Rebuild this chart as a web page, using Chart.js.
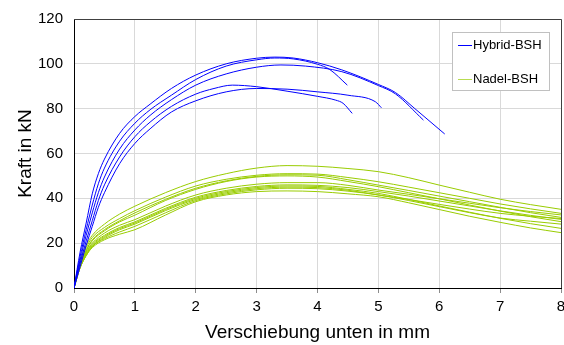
<!DOCTYPE html>
<html>
<head>
<meta charset="utf-8">
<script src="https://cdn.jsdelivr.net/npm/chart.js@4"></script>
<style>
    html, body { margin: 0; padding: 0; background: #fff; }
    #wrap { width: 564px; height: 345px; position: relative; }
</style>
</head>
<body>
<div id="wrap"><canvas id="forceChart" width="564" height="345"></canvas></div>
<script>
// Hybrid-BSH test curves, [displacement mm, force kN]
const hybridA = [[0,0],[0.1,16],[0.2,29],[0.3,42],[0.4,51],[0.5,57.5],[0.75,69],[1,76.5],[1.25,82],[1.6,89],[2,95],[2.5,100],[3,102.5],[3.3,103],[3.6,102.6],[4,100.5],[4.4,97.3],[5,90.8],[5.28,87.2],[5.6,80],[6.09,68.7]];
const hybridB = [[0,0],[0.1,14],[0.2,26],[0.3,37],[0.4,46.5],[0.5,53.5],[0.75,65.5],[1,73.5],[1.25,79.5],[1.6,86],[2,93],[2.5,99],[3,101.8],[3.3,102.6],[3.6,102.2],[4,99.8],[4.2,97.5],[4.49,90.5]];
const hybridC = [[0,0],[0.1,12.5],[0.2,23.5],[0.3,33.5],[0.4,42.5],[0.5,49.5],[0.75,62],[1,70.5],[1.25,77],[1.6,84],[2,90.5],[2.5,95.5],[3,98.5],[3.4,99.5],[3.8,99],[4.4,96.5],[5,90.3],[5.28,86.6],[5.74,74.9]];
const hybridD = [[0,0],[0.1,11],[0.2,21],[0.3,30],[0.4,39],[0.5,46],[0.75,58.5],[1,67.5],[1.25,74],[1.6,81],[2,86.5],[2.3,89],[2.6,90.5],[3,89.8],[3.5,87.8],[4,85.5],[4.3,83.8],[4.42,82.4],[4.57,77.9]];
const hybridE = [[0,0],[0.1,9.5],[0.2,19],[0.3,27.5],[0.4,36],[0.5,42.5],[0.75,55.5],[1,64.5],[1.25,71],[1.6,78.5],[2,83.5],[2.5,87.5],[3,89],[3.5,88.7],[4,87.5],[4.5,86],[4.95,83.1],[5.05,80.4]];

// Nadel-BSH test curves, shared displacement steps
const nadelX = [0, 0.1, 0.2, 0.3, 0.5, 0.75, 1, 1.5, 2, 2.5, 3, 3.5, 4, 4.5, 5, 5.5, 6, 6.5, 7, 7.5, 8];
const nadel1 = [0, 12, 19, 23.5, 28.5, 33, 36.5, 42.5, 47.5, 51, 53.5, 54.6, 54.3, 53.3, 51.9, 49.2, 45.9, 42.7, 39.6, 37.2, 35.1];
const nadel2 = [0, 11, 18, 22.5, 27, 31, 34.5, 40.5, 45.5, 48.5, 50.3, 51, 50.8, 49.3, 47.4, 45, 42.5, 40, 37.5, 35.3, 33.3];
const nadel3 = [0, 10.5, 17, 21.5, 26, 30, 33.5, 39.5, 44.5, 47.8, 49.8, 50.5, 50.3, 48.3, 45.9, 43.5, 41, 38.5, 36, 33.6, 31.5];
const nadel4 = [0, 10, 16.5, 21, 25.5, 29.5, 32.5, 39, 44, 47.5, 49.5, 50, 49.5, 47.5, 45.2, 42.5, 39.8, 37, 34.3, 31.8, 29.6];
const nadel5 = [0, 10, 16, 20, 24.5, 28, 30.5, 36.5, 41.5, 44.5, 46.3, 47, 47, 45.8, 43.7, 41.8, 39.8, 37.8, 35.8, 34.1, 32.6];
const nadel6 = [0, 9.5, 15.5, 19.5, 23.5, 27, 29.5, 35.5, 40.5, 43.5, 45.3, 46, 45.8, 44.8, 43, 41, 38.8, 36.6, 34.4, 32.4, 30.6];
const nadel7 = [0, 9.5, 15, 19, 23, 26.5, 29, 35, 40, 43, 44.8, 45.5, 45.3, 44, 42.2, 39.5, 36.6, 33.8, 31.1, 28.7, 26.6];
const nadel8 = [0, 9, 14.5, 18.5, 22.5, 26, 28.5, 34.5, 39.5, 42.5, 44.3, 45, 44.8, 43.6, 41.5, 39.5, 37.3, 35.2, 33.3, 32, 31];
const nadel9 = [0, 9, 14.5, 18, 21.5, 24, 26, 32.5, 38.5, 41.5, 43, 43.3, 43, 42, 40.7, 38, 35, 32, 29.3, 26.8, 24.7];
const nadel10 = [0, 9, 14.5, 18.5, 22, 25, 27.5, 33.5, 39, 42, 43.8, 44.5, 44.3, 43.2, 41.5, 39, 36.3, 33.6, 31.2, 29.8, 28.5];

const xTicks = [0, 1, 2, 3, 4, 5, 6, 7, 8];
const yTicks = [0, 20, 40, 60, 80, 100, 120];

const BLUE = '#0000ff';
const GREEN = '#99cc00';
const FONT = "'Liberation Sans', Arial, sans-serif";

function lineSet(points, color) {
    return {
        data: points.map(p => ({ x: p[0], y: p[1] })),
        borderColor: color,
        borderWidth: 1,
        pointRadius: 0,
        fill: false,
        cubicInterpolationMode: 'monotone'
    };
}

const hybridSets = [hybridA, hybridB, hybridC, hybridD, hybridE].map(c => lineSet(c, BLUE));
const nadelSets = [nadel1, nadel2, nadel3, nadel4, nadel5, nadel6, nadel7, nadel8, nadel9, nadel10]
    .map(ys => lineSet(nadelX.map((x, i) => [x, ys[i]]), GREEN));

// Frame on top/right plus the boxed legend inside the plot
const frameAndLegend = {
    id: 'frameAndLegend',
    afterDraw(chart) {
        const { ctx, chartArea } = chart;
        ctx.save();
        ctx.strokeStyle = '#404040';
        ctx.lineWidth = 1;
        ctx.beginPath();
        ctx.moveTo(chartArea.left, chartArea.top + 0.5);
        ctx.lineTo(chartArea.right + 0.5, chartArea.top + 0.5);
        ctx.lineTo(chartArea.right + 0.5, chartArea.bottom);
        ctx.stroke();

        const w = 97, h = 58;
        const x0 = Math.round(chartArea.right - 12 - w);
        const y0 = Math.round(chartArea.top + 13);
        ctx.fillStyle = '#fff';
        ctx.fillRect(x0, y0, w, h);
        ctx.strokeStyle = '#c0c0c0';
        ctx.strokeRect(x0 + 0.5, y0 + 0.5, w, h);

        const entries = [['Hybrid-BSH', BLUE, 13], ['Nadel-BSH', '#b8dc50', 47]];
        ctx.font = '13px ' + FONT;
        ctx.textBaseline = 'middle';
        entries.forEach(([label, color, dy]) => {
            const y = y0 + dy + 0.5;
            ctx.strokeStyle = color;
            ctx.beginPath();
            ctx.moveTo(x0 + 6, y);
            ctx.lineTo(x0 + 20, y);
            ctx.stroke();
            ctx.fillStyle = '#000';
            ctx.fillText(label, x0 + 21, y);
        });
        ctx.restore();
    }
};

new Chart(document.getElementById('forceChart'), {
    type: 'line',
    data: { datasets: [...hybridSets, ...nadelSets] },
    options: {
        responsive: false,
        animation: false,
        devicePixelRatio: 1,
        layout: { padding: { left: 0, right: 3, top: 19, bottom: 0 } },
        plugins: { legend: { display: false }, tooltip: { enabled: false } },
        scales: {
            x: {
                type: 'linear',
                min: 0,
                max: 8,
                afterBuildTicks: s => { s.ticks = xTicks.map(v => ({ value: v })); },
                afterFit: s => { s.height = 57; s.paddingLeft = 0; s.paddingRight = 0; },
                ticks: { color: '#000', padding: 5, font: { family: FONT, size: 15 } },
                grid: { color: '#d9d9d9', tickLength: 5, tickColor: '#8c8c8c' },
                border: { color: '#000', width: 1 },
                title: {
                    display: true,
                    text: 'Verschiebung unten in mm',
                    color: '#000',
                    font: { family: FONT, size: 19 },
                    padding: { top: 0, bottom: 1 }
                }
            },
            y: {
                min: 0,
                max: 120,
                afterBuildTicks: s => { s.ticks = yTicks.map(v => ({ value: v })); },
                afterFit: s => { s.width = 74; s.paddingTop = 0; s.paddingBottom = 0; },
                ticks: { color: '#000', padding: 11, font: { family: FONT, size: 15 } },
                grid: { color: '#d9d9d9', drawTicks: false },
                border: { color: '#000', width: 1 },
                title: {
                    display: true,
                    text: 'Kraft in kN',
                    color: '#000',
                    font: { family: FONT, size: 19 },
                    padding: { top: 14, bottom: 0 }
                }
            }
        }
    },
    plugins: [frameAndLegend]
});
</script>
</body>
</html>
